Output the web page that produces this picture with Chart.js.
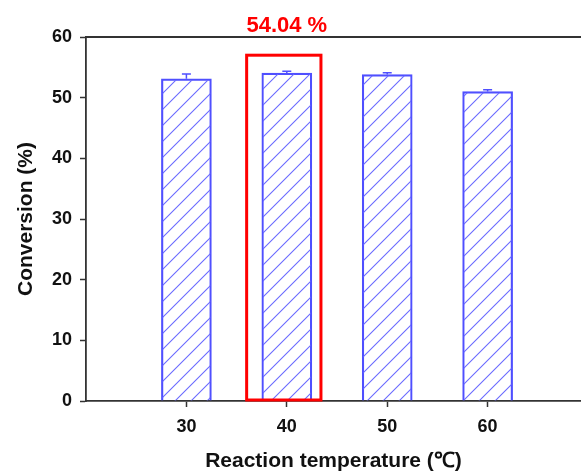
<!DOCTYPE html>
<html>
<head>
<meta charset="utf-8">
<script src="https://cdn.jsdelivr.net/npm/chart.js@4/dist/chart.umd.min.js"></script>
<style>
  html, body { margin: 0; padding: 0; background: #fff; }
  #wrap { width: 581px; height: 471px; }
</style>
</head>
<body>
<div id="wrap"><canvas id="chart" width="581" height="471"></canvas></div>
<script>
const temps = [30, 40, 50, 60];
const conversion = [53.1, 54.04, 53.8, 51.0];
const errors = [0.8, 0.3, 0.3, 0.3];
const yTicks = [0, 10, 20, 30, 40, 50, 60];
const bestIndex = 1;
const bestLabel = "54.04 %";
// highlight box in data units (x: temperature, y: conversion)
const boxX = [36, 43.4];
const boxTop = 57;

const BLUE = "#4f4fff";
const FONT = "'Liberation Sans', Arial, sans-serif";

function hatch() {
  // 45deg hatch, ~16px apart along the bar edge
  const c = document.createElement("canvas");
  c.width = 16; c.height = 16;
  const g = c.getContext("2d");
  g.strokeStyle = "#6a6aff";
  g.lineWidth = 1.1;
  g.beginPath();
  g.moveTo(0, 16); g.lineTo(16, 0);
  g.moveTo(-2, 2); g.lineTo(2, -2);
  g.moveTo(14, 18); g.lineTo(18, 14);
  g.stroke();
  return g.createPattern(c, "repeat");
}

const extras = {
  id: "extras",
  afterDatasetsDraw(chart) {
    const { ctx, chartArea: a, scales: { x, y } } = chart;
    ctx.save();
    // error bars
    ctx.strokeStyle = BLUE;
    ctx.lineWidth = 1.5;
    temps.forEach((t, i) => {
      const px = x.getPixelForValue(t);
      const top = y.getPixelForValue(conversion[i] + errors[i]);
      const base = y.getPixelForValue(conversion[i]);
      ctx.beginPath();
      ctx.moveTo(px, base); ctx.lineTo(px, top);
      ctx.moveTo(px - 4.5, top); ctx.lineTo(px + 4.5, top);
      ctx.stroke();
    });
    // top frame line
    ctx.strokeStyle = "#333";
    ctx.lineWidth = 1.8;
    ctx.beginPath();
    ctx.moveTo(a.left, a.top); ctx.lineTo(a.right, a.top);
    ctx.stroke();
    // highlight box
    const l = x.getPixelForValue(boxX[0]);
    const r = x.getPixelForValue(boxX[1]);
    const t = y.getPixelForValue(boxTop);
    const b = y.getPixelForValue(0);
    ctx.strokeStyle = "#ff0000";
    ctx.lineWidth = 3;
    ctx.strokeRect(l, t, r - l, b - t - 1);
    ctx.fillStyle = "#ff0000";
    ctx.font = "bold 22px " + FONT;
    ctx.textAlign = "center";
    ctx.textBaseline = "alphabetic";
    ctx.fillText(bestLabel, x.getPixelForValue(temps[bestIndex]), a.top - 5);
    ctx.restore();
  }
};

new Chart(document.getElementById("chart"), {
  type: "bar",
  data: {
    datasets: [{
      data: temps.map((t, i) => ({ x: t, y: conversion[i] })),
      backgroundColor: hatch(),
      borderColor: BLUE,
      borderWidth: 1.5,
      barThickness: 50
    }]
  },
  options: {
    responsive: false,
    animation: false,
    layout: { padding: { top: 37, right: 0, left: 0, bottom: 0 } },
    plugins: { legend: { display: false }, tooltip: { enabled: false } },
    scales: {
      x: {
        type: "linear",
        min: 20,
        max: 69.3,
        offset: false,
        afterBuildTicks: s => { s.ticks = temps.map(v => ({ value: v })); },
        afterFit: s => { s.height = 70; },
        grid: { offset: false, drawOnChartArea: false, tickLength: 6, tickColor: "#333", tickWidth: 1.5 },
        border: { color: "#333", width: 1.8 },
        ticks: { color: "#111", font: { family: FONT, size: 18, weight: "bold" }, padding: 9, maxRotation: 0 },
        title: { display: true, text: "Reaction temperature (℃)", color: "#111", font: { family: FONT, size: 21, weight: "bold" }, padding: { top: 4, bottom: -3 } }
      },
      y: {
        min: 0,
        max: 60,
        afterBuildTicks: s => { s.ticks = yTicks.map(v => ({ value: v })); },
        afterFit: s => { s.width = 86; },
        grid: { drawOnChartArea: false, tickLength: 6, tickColor: "#333", tickWidth: 1.5 },
        border: { color: "#333", width: 1.8 },
        ticks: { color: "#111", font: { family: FONT, size: 18, weight: "bold" }, padding: 8 },
        title: { display: true, text: "Conversion (%)", color: "#111", font: { family: FONT, size: 21, weight: "bold" }, padding: { top: 14, bottom: 0 } }
      }
    }
  },
  plugins: [extras]
});
</script>
</body>
</html>
